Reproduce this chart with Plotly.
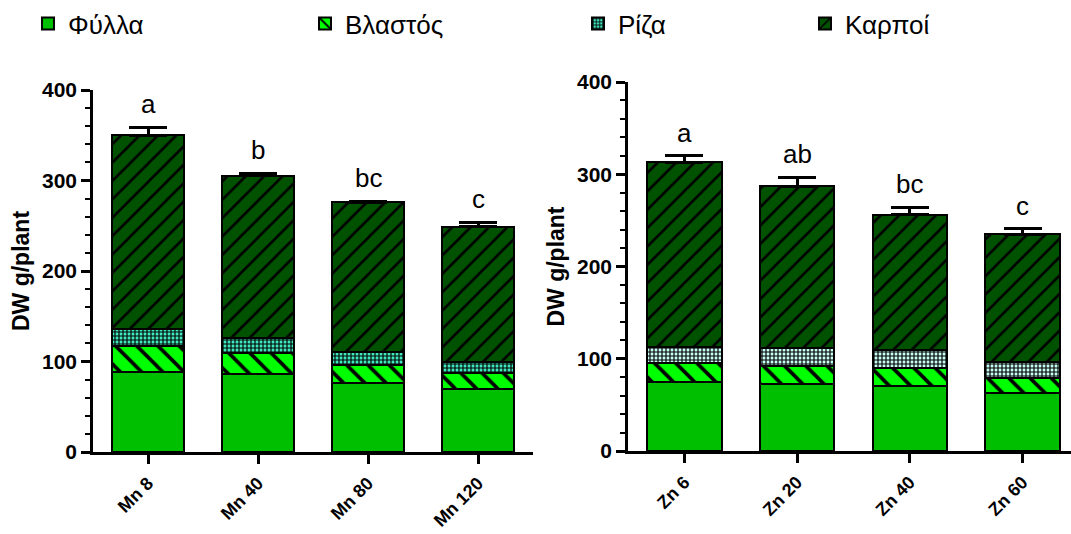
import plotly.graph_objects as go

# Mn treatments (left panel)
mn_labels = ["Mn 8", "Mn 40", "Mn 80", "Mn 120"]
mn_leaf = [88, 86, 76, 70]
mn_stem = [29, 23, 20, 17]
mn_root = [19, 17, 14, 13]
mn_fruit = [214, 179, 166, 149]
mn_err = [9, 3, 1, 5]
mn_letters = ["a", "b", "bc", "c"]

# Zn treatments (right panel)
zn_labels = ["Zn 6", "Zn 20", "Zn 40", "Zn 60"]
zn_leaf = [75, 73, 70, 63]
zn_stem = [20, 19, 20, 16]
zn_root = [18, 20, 19, 17]
zn_fruit = [200, 175, 147, 139]
zn_err = [7, 10, 8, 6]
zn_letters = ["a", "ab", "bc", "c"]

part_names = ["Φύλλα", "Βλαστός", "Ρίζα", "Καρποί"]

FONT = "Liberation Sans, Arial, sans-serif"
LEAF = "#00BF00"
STEM = "#00FF00"
ROOT_L = "#40E8C0"
ROOT_R = "#C8FFF4"
FRUIT = "#005200"
W, H = 1071.0, 534.0

fig = go.Figure()


def add_panel(labels, leaf, stem, root, fruit, err, root_color, xa, ya, show):
    line = dict(color="black", width=2)
    common = dict(x=labels, xaxis=xa, yaxis=ya, width=0.66)
    fig.add_bar(y=leaf, name=part_names[0], legend="legend", showlegend=show,
                marker=dict(color=LEAF, line=line), **common)
    fig.add_bar(y=stem, name=part_names[1], legend="legend2", showlegend=show,
                marker=dict(color=STEM, line=line,
                            pattern=dict(shape="\\", fgcolor="black", bgcolor=STEM,
                                         size=15, solidity=0.24, fillmode="replace")),
                **common)
    fig.add_bar(y=root, name=part_names[2], legend="legend3", showlegend=show,
                marker=dict(color=root_color, line=line,
                            pattern=dict(shape="+", fgcolor="black", bgcolor=root_color,
                                         size=4, solidity=0.5, fillmode="replace")),
                **common)
    fig.add_bar(y=fruit, name=part_names[3], legend="legend4", showlegend=show,
                marker=dict(color=FRUIT, line=line,
                            pattern=dict(shape="/", fgcolor="black", bgcolor=FRUIT,
                                         size=13, solidity=0.2, fillmode="replace")),
                error_y=dict(type="data", array=err, arrayminus=[0] * len(err),
                             symmetric=False, color="black", thickness=3, width=19),
                **common)


add_panel(mn_labels, mn_leaf, mn_stem, mn_root, mn_fruit, mn_err, ROOT_L, "x", "y", True)
add_panel(zn_labels, zn_leaf, zn_stem, zn_root, zn_fruit, zn_err, ROOT_R, "x2", "y2", False)

annotations = []
for labels, leaf, stem, root, fruit, err, letters, xa, ya in [
    (mn_labels, mn_leaf, mn_stem, mn_root, mn_fruit, mn_err, mn_letters, "x", "y"),
    (zn_labels, zn_leaf, zn_stem, zn_root, zn_fruit, zn_err, zn_letters, "x2", "y2"),
]:
    for i, lab in enumerate(labels):
        top = leaf[i] + stem[i] + root[i] + fruit[i] + err[i]
        annotations.append(dict(x=lab, y=top, xref=xa, yref=ya, text=letters[i],
                                showarrow=False, yanchor="bottom", yshift=6,
                                font=dict(family=FONT, size=26, color="black")))

xaxis_style = dict(
    type="category", showline=True, linecolor="black", linewidth=2.5,
    ticks="outside", ticklen=9, tickwidth=2.5, tickcolor="black",
    tickangle=-45, ticklabelstandoff=2, showgrid=False, zeroline=False,
    tickfont=dict(family=FONT, size=18, color="black", weight="bold"),
)
yaxis_style = dict(
    range=[0, 400], dtick=100, showline=True, linecolor="black", linewidth=2.5,
    ticks="outside", ticklen=9, tickwidth=2.5, tickcolor="black",
    minor=dict(dtick=20, ticks="outside", ticklen=5, tickwidth=2, tickcolor="black"),
    showgrid=False, zeroline=False,
    tickfont=dict(family=FONT, size=21, color="black", weight="bold"),
    title=dict(text="DW g/plant", standoff=6,
               font=dict(family=FONT, size=23, color="black", weight="bold")),
)

legend_style = dict(orientation="h", y=1.0, xanchor="left", yanchor="top",
                    font=dict(family=FONT, size=26, color="black"),
                    bgcolor="rgba(0,0,0,0)")

fig.update_layout(
    width=1071, height=534,
    margin=dict(l=0, r=0, t=0, b=0, autoexpand=False),
    paper_bgcolor="white", plot_bgcolor="white",
    barmode="stack",
    xaxis=dict(domain=[93 / W, 533 / W], range=[-0.5, 3.5], anchor="y", **xaxis_style),
    yaxis=dict(domain=[1 - 452 / H, 1 - 90 / H], anchor="x", **yaxis_style),
    xaxis2=dict(domain=[628 / W, 1.0], range=[-0.5, 3.43], anchor="y2", **xaxis_style),
    yaxis2=dict(domain=[1 - 451 / H, 1 - 82 / H], anchor="x2", **yaxis_style),
    legend=dict(x=28 / W, **legend_style),
    legend2=dict(x=305 / W, **legend_style),
    legend3=dict(x=578 / W, **legend_style),
    legend4=dict(x=805 / W, **legend_style),
    annotations=annotations,
    showlegend=True,
)

fig.write_html("out.html")
